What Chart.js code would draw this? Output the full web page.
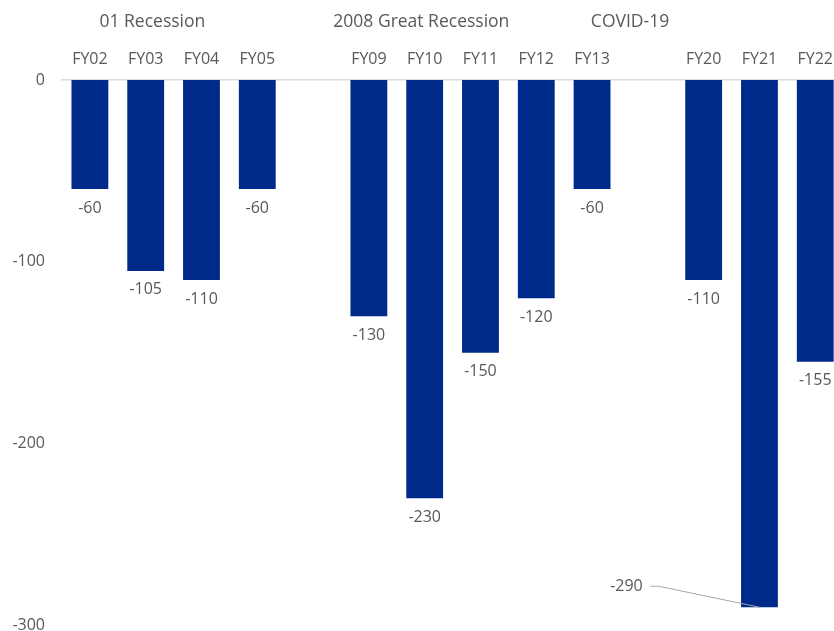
<!DOCTYPE html>
<html>
<head>
<meta charset="utf-8">
<script src="https://cdn.jsdelivr.net/npm/chart.js@4.4.0/dist/chart.umd.min.js"></script>
<style>
  html, body { margin: 0; padding: 0; background: #fff; overflow: hidden; }
  #wrap { width: 844px; height: 652px; position: relative; }
</style>
</head>
<body>
<div id="wrap"><canvas id="myChart"></canvas></div>
<script>
// Données du graphique (cases vides = séparation entre récessions)
const years = ['FY02', 'FY03', 'FY04', 'FY05', '', 'FY09', 'FY10', 'FY11', 'FY12', 'FY13', '', 'FY20', 'FY21', 'FY22'];
const values = [-60, -105, -110, -60, null, -130, -230, -150, -120, -60, null, -110, -290, -155];
const yTicks = [0, -100, -200, -300];
// Libellés des périodes, placés sur l'axe des catégories (index décimal)
const periodNames = ['01 Recession', '2008 Great Recession', 'COVID-19'];
const periodAnchors = [1.12, 5.94, 9.68];

const textColor = '#595959';
const barColor = '#002a8a';
const fontFamily = "'Open Sans', 'Noto Sans', sans-serif";

// Étiquettes de valeurs sous les barres + libellés de périodes
const labelsPlugin = {
  id: 'labelsPlugin',
  afterDatasetsDraw(chart) {
    const ctx = chart.ctx;
    const meta = chart.getDatasetMeta(0);
    ctx.save();
    ctx.font = '16px ' + fontFamily;
    ctx.fillStyle = textColor;
    ctx.textAlign = 'center';
    ctx.textBaseline = 'middle';
    meta.data.forEach((bar, i) => {
      const v = values[i];
      if (v === null) return;
      if (v === -290) {
        // étiquette déportée avec trait de rappel
        const lx = bar.x - 133, ly = bar.y - 21;
        ctx.fillText(String(v), lx, ly);
        ctx.strokeStyle = '#a6a6a6';
        ctx.lineWidth = 1;
        ctx.beginPath();
        ctx.moveTo(lx + 24, ly);
        ctx.lineTo(lx + 32, ly);
        ctx.lineTo(bar.x, bar.y);
        ctx.stroke();
      } else {
        ctx.fillText(String(v), bar.x, bar.y + 19);
      }
    });
    ctx.font = '17.5px ' + fontFamily;
    const xScale = chart.scales.x;
    periodNames.forEach((name, i) => {
      ctx.fillText(name, xScale.getPixelForValue(periodAnchors[i]), 22);
    });
    ctx.restore();
  }
};

new Chart(document.getElementById('myChart'), {
  type: 'bar',
  data: {
    labels: years,
    datasets: [{
      data: values,
      backgroundColor: barColor,
      barPercentage: 0.66,
      categoryPercentage: 1
    }]
  },
  options: {
    responsive: true,
    maintainAspectRatio: false,
    animation: false,
    layout: { padding: { top: 44, right: 0, bottom: 7, left: 0 } },
    plugins: {
      legend: { display: false },
      tooltip: { enabled: false }
    },
    scales: {
      x: {
        position: 'top',
        grid: { display: false, drawTicks: false },
        border: { display: true, color: '#d9d9d9', width: 1.5 },
        ticks: { color: textColor, font: { family: fontFamily, size: 16 }, padding: 11, maxRotation: 0, autoSkip: false },
        afterFit(scale) { scale.height = 36; }
      },
      y: {
        min: -300,
        max: 0,
        afterBuildTicks(scale) { scale.ticks = yTicks.map(v => ({ value: v })); },
        grid: { display: false, drawTicks: false },
        border: { display: false },
        ticks: { color: textColor, font: { family: fontFamily, size: 16 }, padding: 17 },
        afterFit(scale) { scale.width = 62; }
      }
    }
  },
  plugins: [labelsPlugin]
});
</script>
</body>
</html>
